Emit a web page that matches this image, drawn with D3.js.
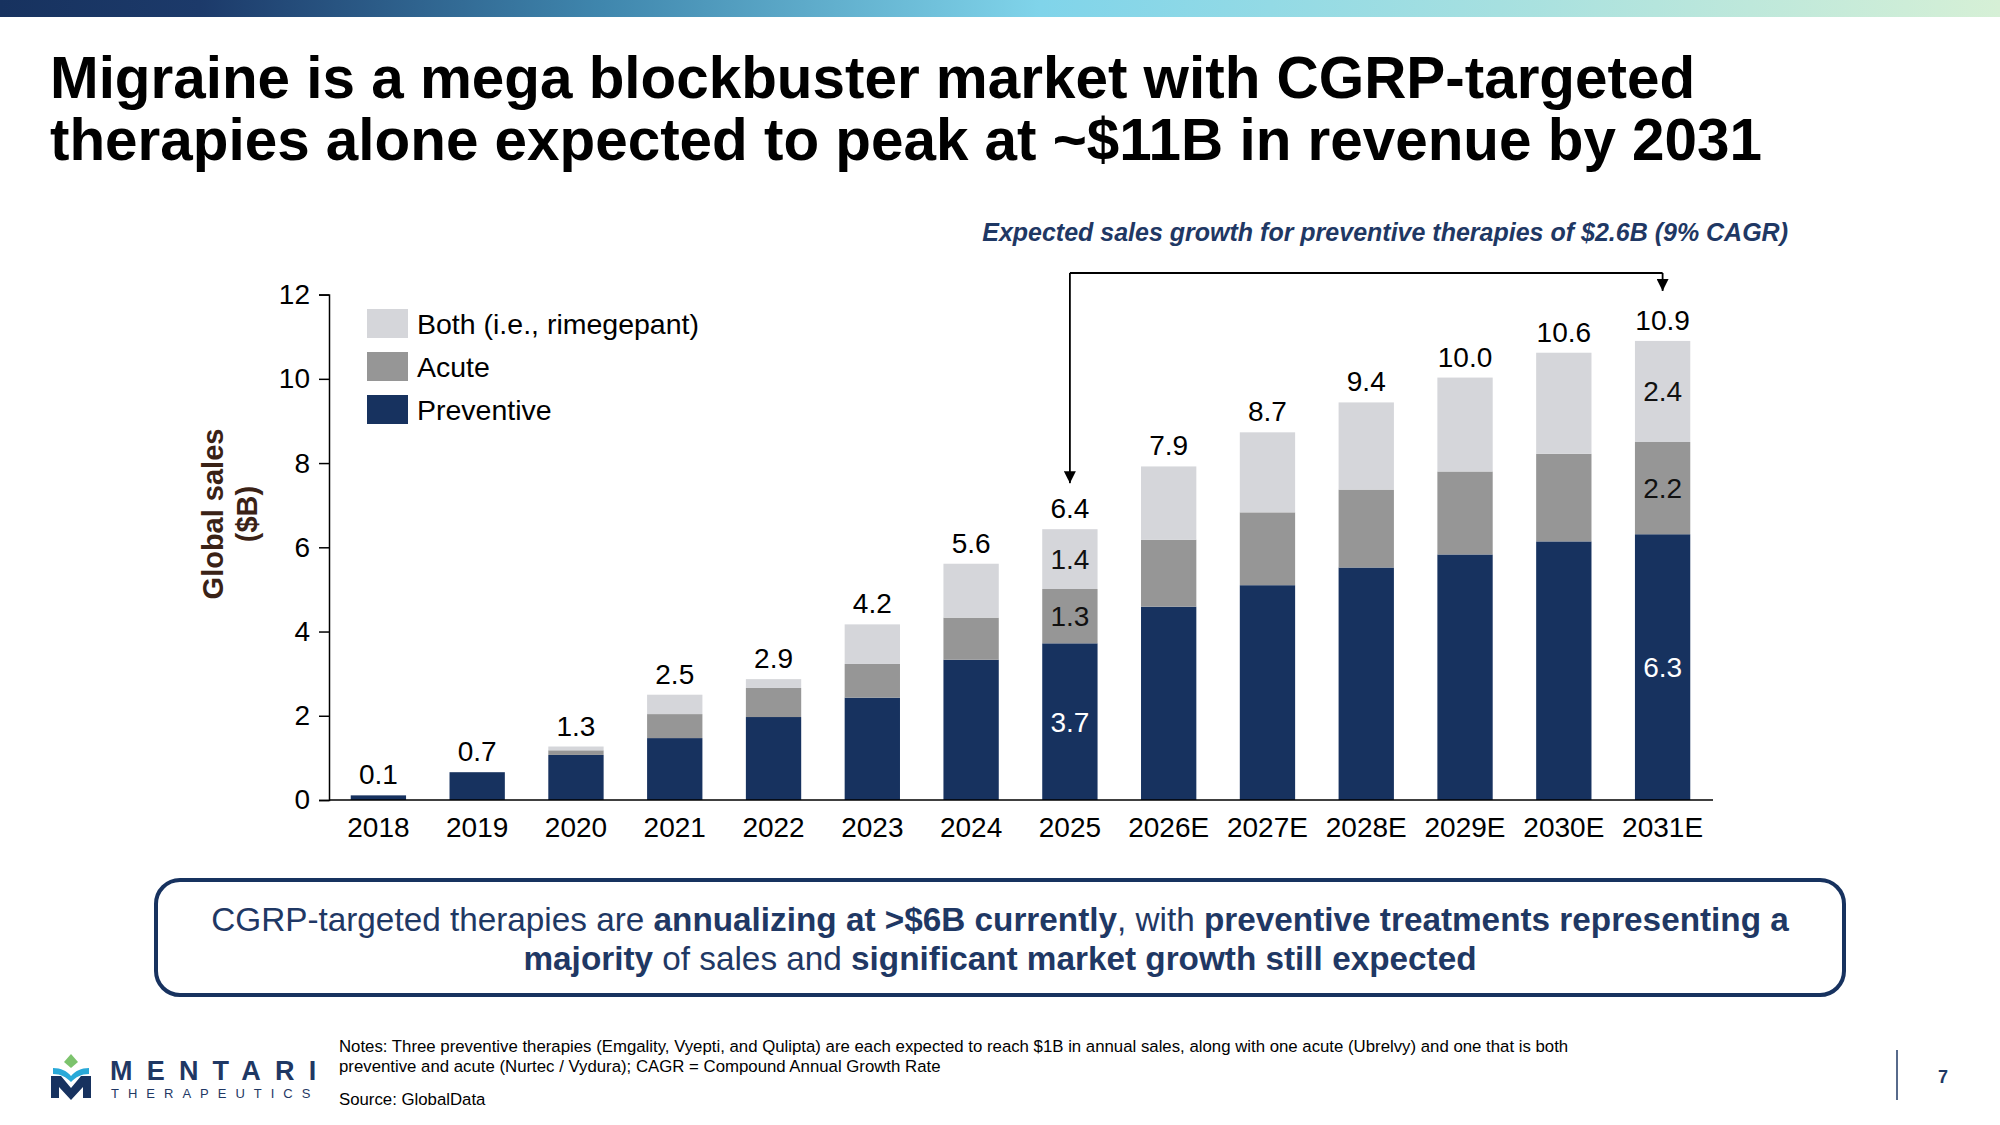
<!DOCTYPE html>
<html>
<head>
<meta charset="utf-8">
<script src="https://cdn.jsdelivr.net/npm/d3@7"></script>
<style>
  html,body{margin:0;padding:0;background:#fff;}
  svg{display:block;font-family:"Liberation Sans",Arial,sans-serif;}
</style>
</head>
<body>
<svg id="slide" width="2000" height="1125"></svg>
<script>
/* ---- data ---- */
var years=['2018','2019','2020','2021','2022','2023','2024','2025','2026E','2027E','2028E','2029E','2030E','2031E'];
var preventive=[0.11,0.66,1.07,1.47,1.97,2.43,3.33,3.72,4.59,5.10,5.52,5.83,6.14,6.31];
var acute=[0,0,0.11,0.57,0.69,0.80,1.00,1.29,1.59,1.73,1.85,1.97,2.08,2.19];
var both=[0,0,0.09,0.46,0.21,0.94,1.28,1.42,1.74,1.90,2.07,2.23,2.40,2.40];
var totalLabels=['0.1','0.7','1.3','2.5','2.9','4.2','5.6','6.4','7.9','8.7','9.4','10.0','10.6','10.9'];
var yTicks=[0,2,4,6,8,10,12];
var segLabelYears=['2025','2031E'];
var seriesNames=['Preventive','Acute','Both (i.e., rimegepant)'];

var NAVY='#17325f', ACUTE='#969696', BOTH='#d5d6da';
var colors={'Preventive':NAVY,'Acute':ACUTE,'Both (i.e., rimegepant)':BOTH};
var FONT='Liberation Sans,Arial,sans-serif';

var svg=d3.select('#slide');

/* ── header gradient strip ── */
var defs=svg.append('defs');
var grad=defs.append('linearGradient').attr('id','topGrad').attr('x1','0%').attr('x2','100%');
[['0%','#17325f'],['10%','#1c3a6a'],['30%','#3f86ad'],['52%','#80d4ea'],['75%','#a6e0e0'],['100%','#d6f0d6']]
  .forEach(function(s){grad.append('stop').attr('offset',s[0]).attr('stop-color',s[1]);});
svg.append('rect').attr('x',0).attr('y',0).attr('width',2000).attr('height',17).attr('fill','url(#topGrad)');

/* ── title ── */
var title=svg.append('text').attr('font-size',58.4).attr('font-weight','bold').attr('fill','#000');
title.append('tspan').attr('x',50).attr('y',98).text('Migraine is a mega blockbuster market with CGRP-targeted');
title.append('tspan').attr('x',50).attr('y',160).text('therapies alone expected to peak at ~$11B in revenue by 2031');

/* ── chart ── */
var x0=329, x1=1712, yBase=800, yTop=294.6;
var x=d3.scaleBand().domain(years).range([x0,x1]).paddingInner(0.44).paddingOuter(0.22);
var y=d3.scaleLinear().domain([0,12]).range([yBase,yTop]);

var rows=years.map(function(yr,i){
  return {year:yr,'Preventive':preventive[i],'Acute':acute[i],'Both (i.e., rimegepant)':both[i],label:totalLabels[i]};
});
var stack=d3.stack().keys(seriesNames)(rows);

var g=svg.append('g');
stack.forEach(function(layer){
  g.selectAll(null).data(layer).enter().append('rect')
    .attr('x',function(d){return x(d.data.year);})
    .attr('width',x.bandwidth())
    .attr('y',function(d){return y(d[1]);})
    .attr('height',function(d){return Math.max(0,y(d[0])-y(d[1]));})
    .attr('fill',colors[layer.key]);
});

// segment labels (2025, 2031E)
var fmt=d3.format('.1f');
stack.forEach(function(layer){
  g.selectAll(null).data(layer.filter(function(d){return segLabelYears.indexOf(d.data.year)>=0;}))
    .enter().append('text')
    .attr('x',function(d){return x(d.data.year)+x.bandwidth()/2;})
    .attr('y',function(d){return (y(d[0])+y(d[1]))/2+10;})
    .attr('text-anchor','middle').attr('font-size',28)
    .attr('fill',layer.key==='Preventive'?'#fff':'#111')
    .text(function(d){return fmt(d[1]-d[0]);});
});

// total labels
var topLayer=stack[stack.length-1];
g.selectAll(null).data(topLayer).enter().append('text')
  .attr('x',function(d){return x(d.data.year)+x.bandwidth()/2;})
  .attr('y',function(d){return y(d[1])-11;})
  .attr('text-anchor','middle').attr('font-size',28).attr('fill','#000')
  .text(function(d){return d.data.label;});

// axes
var yAxis=svg.append('g').attr('transform','translate('+x0+',0)')
  .call(d3.axisLeft(y).tickValues(yTicks).tickSize(10).tickPadding(9).tickFormat(d3.format('d')));
yAxis.select('.domain').attr('stroke','#000').attr('stroke-width',1.5);
yAxis.selectAll('.tick line').attr('stroke','#000').attr('stroke-width',1.5);
yAxis.selectAll('.tick text').attr('font-size',28).attr('fill','#000').attr('font-family',FONT);

var xAxis=svg.append('g').attr('transform','translate(0,'+yBase+')')
  .call(d3.axisBottom(x).tickSize(0).tickPadding(12));
xAxis.select('.domain').attr('stroke','#000').attr('stroke-width',1.5).attr('d','M'+x0+',0H'+(x1+1));
xAxis.selectAll('.tick text').attr('font-size',28).attr('fill','#000').attr('font-family',FONT).attr('dy','0.9em');

// y axis title
var yt=svg.append('text').attr('transform','translate(0,514) rotate(-90)')
  .attr('text-anchor','middle').attr('font-size',29).attr('font-weight','bold').attr('fill','#3a2216');
yt.append('tspan').attr('x',0).attr('y',223).text('Global sales');
yt.append('tspan').attr('x',0).attr('y',257).text('($B)');

// legend
var legendOrder=['Both (i.e., rimegepant)','Acute','Preventive'];
var lg=svg.append('g').attr('transform','translate(367,309)');
legendOrder.forEach(function(k,i){
  lg.append('rect').attr('x',0).attr('y',i*43).attr('width',41).attr('height',29).attr('fill',colors[k]);
  lg.append('text').attr('x',50).attr('y',i*43+25).attr('font-size',28.5).attr('fill','#000').text(k);
});

/* ── growth annotation ── */
svg.append('text').attr('x',1788).attr('y',241).attr('text-anchor','end')
  .attr('font-size',25).attr('font-weight','bold').attr('font-style','italic').attr('fill','#1f3864')
  .text('Expected sales growth for preventive therapies of $2.6B (9% CAGR)');

defs.append('marker').attr('id','arrowHead').attr('viewBox','0 0 10 10').attr('refX',10).attr('refY',5)
  .attr('markerWidth',12).attr('markerHeight',12).attr('markerUnits','userSpaceOnUse').attr('orient','auto')
  .append('path').attr('d','M0,0L10,5L0,10Z').attr('fill','#000');
var ax1=x('2025')+x.bandwidth()/2, ax2=x('2031E')+x.bandwidth()/2, ay=273;
var arrowY1=y(d3.sum([preventive[7],acute[7],both[7]]))-46;
var arrowY2=y(d3.sum([preventive[13],acute[13],both[13]]))-50;
svg.append('path').attr('d','M'+ax1+','+ay+'H'+ax2).attr('stroke','#000').attr('stroke-width',1.8).attr('fill','none');
svg.append('path').attr('d','M'+ax1+','+ay+'V'+arrowY1).attr('stroke','#000').attr('stroke-width',1.8).attr('fill','none').attr('marker-end','url(#arrowHead)');
svg.append('path').attr('d','M'+ax2+','+ay+'V'+arrowY2).attr('stroke','#000').attr('stroke-width',1.8).attr('fill','none').attr('marker-end','url(#arrowHead)');

/* ── takeaway box ── */
svg.append('rect').attr('x',156).attr('y',880).attr('width',1688).attr('height',115).attr('rx',24)
  .attr('fill','#fff').attr('stroke',NAVY).attr('stroke-width',4);
var bt=svg.append('text').attr('text-anchor','middle').attr('font-size',33.3).attr('fill','#1f3864');
var l1=bt.append('tspan').attr('x',1000).attr('y',931);
[['CGRP-targeted therapies are ',0],['annualizing at >$6B currently',1],[', with ',0],['preventive treatments representing a',1]]
  .forEach(function(p){l1.append('tspan').attr('font-weight',p[1]?'bold':'normal').text(p[0]);});
var l2=bt.append('tspan').attr('x',1000).attr('y',970);
[['majority',1],[' of sales and ',0],['significant market growth still expected',1]]
  .forEach(function(p){l2.append('tspan').attr('font-weight',p[1]?'bold':'normal').text(p[0]);});

/* ── footer ── */
var notes=svg.append('text').attr('font-size',16.8).attr('fill','#000');
notes.append('tspan').attr('x',339).attr('y',1052).text('Notes: Three preventive therapies (Emgality, Vyepti, and Qulipta) are each expected to reach $1B in annual sales, along with one acute (Ubrelvy) and one that is both');
notes.append('tspan').attr('x',339).attr('y',1072).text('preventive and acute (Nurtec / Vydura); CAGR = Compound Annual Growth Rate');
svg.append('text').attr('x',339).attr('y',1105).attr('font-size',16.8).attr('fill','#000').text('Source: GlobalData');

svg.append('line').attr('x1',1897).attr('x2',1897).attr('y1',1050).attr('y2',1100).attr('stroke','#1f3864').attr('stroke-width',1.5);
svg.append('text').attr('x',1943).attr('y',1083).attr('text-anchor','middle').attr('font-size',18).attr('font-weight','bold').attr('fill','#1f3864').text('7');

// logo
var logo=svg.append('g').attr('transform','translate(51,1054)');
logo.append('path').attr('d','M20,0L27,8L20,14L13,8Z').attr('fill','#7cc36d');
logo.append('path').attr('d','M2,14C10,14 16,17 20,22C24,17 30,14 38,14L38,20C30,20 25,23 20,28C15,23 10,20 2,20Z').attr('fill','#29a9d8');
logo.append('path').attr('d','M0,22L10,22L20,34L30,22L40,22L40,44L32,44L32,33L20,46L8,33L8,44L0,44Z').attr('fill',NAVY);
logo.append('text').attr('x',59).attr('y',26).attr('font-size',27).attr('font-weight','bold').attr('fill','#1f3864')
  .attr('letter-spacing','14.2px').text('MENTARI');
logo.append('text').attr('x',60).attr('y',44).attr('font-size',13).attr('fill','#1f3864')
  .attr('letter-spacing','9px').text('THERAPEUTICS');
</script>
</body>
</html>
